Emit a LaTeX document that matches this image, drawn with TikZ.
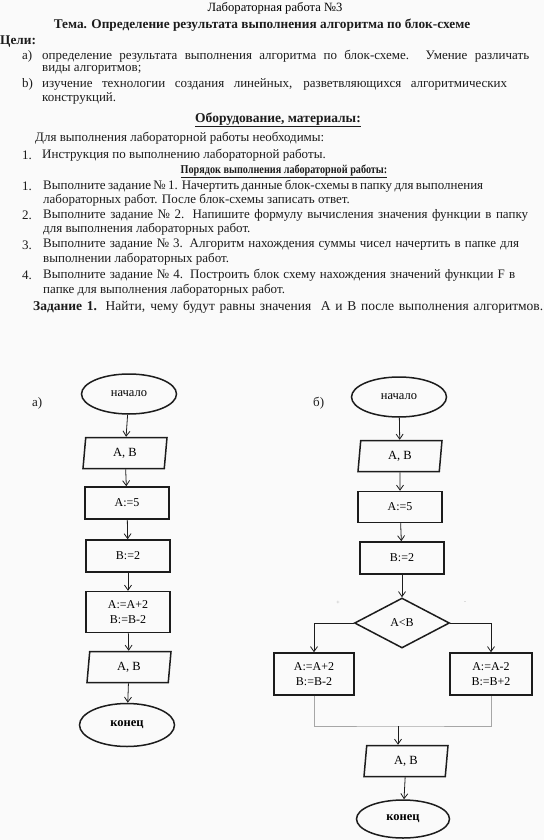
\documentclass[tikz,border=0pt]{standalone}
\usepackage{fontspec}
\setmainfont{Liberation Serif}
\usetikzlibrary{shapes.geometric, arrows.meta, positioning}
\definecolor{pagecolor}{HTML}{FAFAFA}
\definecolor{inkcolor}{HTML}{1C1C1C}
\definecolor{joincolor}{HTML}{A6A6A6}

\tikzset{
    startstop/.style={ellipse, draw=inkcolor, line width=1.5pt, minimum width=95pt, minimum height=40pt, inner sep=0pt, font=\fontsize{12.5}{14}\selectfont},
    iobox/.style={trapezium, trapezium left angle=75, trapezium right angle=105, trapezium stretches body, draw=inkcolor, line width=1.5pt, minimum width=84pt, minimum height=31pt, inner sep=0pt, font=\fontsize{12.5}{14}\selectfont},
    procbox/.style={rectangle, draw=inkcolor, line width=1.5pt, minimum width=84pt, minimum height=32pt, inner sep=0pt, align=center, font=\fontsize{12}{15}\selectfont},
    testbox/.style={diamond, draw=inkcolor, line width=1.5pt, minimum width=95pt, minimum height=50pt, inner sep=0pt, font=\fontsize{12}{14}\selectfont},
    flowarrow/.style={->, draw=inkcolor, line width=0.8pt},
    joinline/.style={draw=joincolor, line width=0.8pt},
    bodyline/.style={anchor=west, inner sep=0pt, text=inkcolor, font=\fontsize{13}{14}\selectfont},
    headline/.style={anchor=center, inner sep=0pt, text=inkcolor, font=\fontsize{13.3}{15}\selectfont\bfseries}
}
% one justified line of the handout, stretched to a given width
\newcommand{\fillline}[2]{\makebox[#1][s]{#2}}

\begin{document}
\begin{tikzpicture}[
    x=1pt, y=-1pt,
    >={Straight Barb[length=5pt, width=7pt]}
]

    % Page
    \fill[pagecolor] (0,0) rectangle (544,840);
    \useasboundingbox (0,0) rectangle (544,840);

    % Header
    \node[anchor=center, inner sep=0pt, font=\fontsize{12.6}{14}\selectfont] (title) at (275,8) {Лабораторная работа №3};
    \node[headline] (theme) at (262,25) {Тема. Определение результата выполнения алгоритма по блок-схеме};
    \node[headline, anchor=west] (goals) at (0,42) {Цели:};
    \node[bodyline] (goalA) at (22,56) {a)};
    \node[bodyline] (goalAtext) at (42,56) {\fillline{487pt}{определение результата выполнения алгоритма по блок-схеме. Умение различать}};
    \node[bodyline] (goalAmore) at (42,70) {виды алгоритмов;};
    \node[bodyline] (goalB) at (22,84) {b)};
    \node[bodyline] (goalBtext) at (42,84) {\fillline{465pt}{изучение технологии создания линейных, разветвляющихся алгоритмических}};
    \node[bodyline] (goalBmore) at (42,98) {конструкций.};

    % Materials
    \node[headline, font=\fontsize{13.5}{15}\selectfont\bfseries] (tools) at (278,120) {\underline{Оборудование, материалы:}};
    \node[bodyline] (toolsText) at (35,138) {Для выполнения лабораторной работы необходимы:};
    \node[bodyline] (toolsNum) at (22,155) {1.};
    \node[bodyline] (toolsItem) at (42,155) {Инструкция по выполнению лабораторной работы.};

    % Order of work
    \node[headline, font=\fontsize{12}{14}\selectfont\bfseries] (order) at (284,171) {\underline{\scalebox{0.85}[1]{Порядок выполнения лабораторной работы:}}};
    \node[bodyline] (stepOneNum) at (22,186) {1.};
    \node[bodyline] (stepOne) at (43,186) {\fillline{440pt}{Выполните задание № 1. Начертить данные блок-схемы в папку для выполнения}};
    \node[bodyline] (stepOneMore) at (43,200) {лабораторных работ. После блок-схемы записать ответ.};
    \node[bodyline] (stepTwoNum) at (22,215) {2.};
    \node[bodyline] (stepTwo) at (43,215) {\fillline{485pt}{Выполните задание № 2. Напишите формулу вычисления значения функции в папку}};
    \node[bodyline] (stepTwoMore) at (43,229) {для выполнения лабораторных работ.};
    \node[bodyline] (stepThreeNum) at (22,245) {3.};
    \node[bodyline] (stepThree) at (43,245) {\fillline{476pt}{Выполните задание № 3. Алгоритм нахождения суммы чисел начертить в папке для}};
    \node[bodyline] (stepThreeMore) at (43,259) {выполнении лабораторных работ.};
    \node[bodyline] (stepFourNum) at (22,275) {4.};
    \node[bodyline] (stepFour) at (43,275) {\fillline{472pt}{Выполните задание № 4. Построить блок схему нахождения значений функции F в}};
    \node[bodyline] (stepFourMore) at (43,290) {папке для выполнения лабораторных работ.};
    \node[bodyline, font=\fontsize{13.5}{15}\selectfont] (task) at (33,307) {\fillline{510pt}{\textbf{Задание 1.} Найти, чему будут равны значения\ \ A и B после выполнения алгоритмов.}};

    % Flowchart a) (linear)
    \node[bodyline] (labelL) at (32,403) {а)};
    \node[startstop] (startL) at (129,394) {начало};
    \node[iobox] (inL) at (125,453) {A, B};
    \node[procbox] (setAL) at (127,503) {A:=5};
    \node[procbox] (setBL) at (128,556) {B:=2};
    \node[procbox, minimum height=41pt] (calcL) at (128,612) {A:=A+2\\B:=B-2};
    \node[iobox] (outL) at (129,667) {A, B};
    \node[startstop, font=\fontsize{12.5}{14}\selectfont\bfseries, minimum height=43pt] (endL) at (127,725) {конец};

    \draw[flowarrow] (startL) -- (inL);
    \draw[flowarrow] (inL) -- (setAL);
    \draw[flowarrow] (setAL) -- (setBL);
    \draw[flowarrow] (setBL) -- (calcL);
    \draw[flowarrow] (calcL) -- (outL);
    \draw[flowarrow] (outL) -- (endL);

    % Flowchart b) (branching)
    \node[bodyline] (labelR) at (313,403) {б)};
    \node[startstop] (startR) at (399,397) {начало};
    \node[iobox] (inR) at (400,456) {A, B};
    \node[procbox, minimum height=31pt] (setAR) at (400,507) {A:=5};
    \node[procbox] (setBR) at (402,558) {B:=2};
    \node[testbox] (testR) at (402,623) {A<B};
    \node[procbox, minimum width=80pt, minimum height=42pt] (yesR) at (314,674) {A:=A+2\\B:=B-2};
    \node[procbox, minimum width=82pt, minimum height=42pt] (noR) at (491,674) {A:=A-2\\B:=B+2};
    \node[iobox] (outR) at (406,761) {A, B};
    \node[startstop, font=\fontsize{12.5}{14}\selectfont\bfseries, minimum width=93pt, minimum height=38pt] (endR) at (403,819) {конец};

    % branch marks
    \node[inner sep=0pt, text=joincolor, font=\fontsize{6}{6}\selectfont] (plusR) at (338,603) {+};
    \node[inner sep=0pt, text=joincolor, font=\fontsize{6}{6}\selectfont] (minusR) at (465,603) {-};

    \coordinate (joinR) at (398,726);

    \draw[flowarrow] (startR) -- (inR);
    \draw[flowarrow] (inR) -- (setAR);
    \draw[flowarrow] (setAR) -- (setBR);
    \draw[flowarrow] (setBR) -- (testR);
    \draw[flowarrow] (testR.west) -| (yesR.north);
    \draw[flowarrow] (testR.east) -| (noR.north);
    \draw[joinline] (yesR.south) |- (joinR) -| (noR.south);
    \draw[flowarrow] (joinR) -- (outR.north -| joinR);
    \draw[flowarrow] (outR) -- (endR);

\end{tikzpicture}
\end{document}
